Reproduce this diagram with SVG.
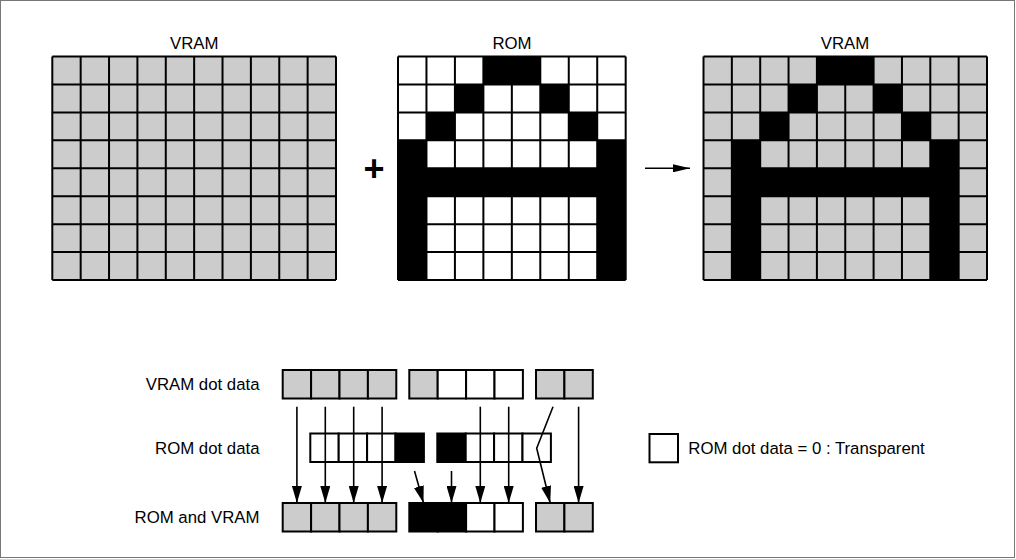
<svg xmlns="http://www.w3.org/2000/svg" width="1016" height="559" viewBox="0 0 1016 559">
<defs>
<style>
.g{fill:#cccccc}
.w{fill:#ffffff}
.b{fill:#000000}
.ln{fill:none;stroke:#000;stroke-width:2;vector-effect:non-scaling-stroke}
.cell{stroke:#000;stroke-width:2}
.t{font-family:"Liberation Sans",Arial,sans-serif;font-size:16.8px;fill:#000}
.c{stroke:#000;stroke-width:1.6;fill:none}
</style>
<marker id="ah" markerUnits="userSpaceOnUse" markerWidth="17" markerHeight="10" refX="17" refY="5" orient="auto">
<path d="M0,0 L17,5 L0,10 z" fill="#000"/>
</marker>
<marker id="ah2" markerUnits="userSpaceOnUse" markerWidth="17" markerHeight="8" refX="17" refY="4" orient="auto">
<path d="M0,0 L17,4 L0,8 z" fill="#000"/>
</marker>
</defs>
<rect x="0.5" y="0.5" width="1014" height="557" fill="#fff" stroke="#777" stroke-width="1"/>

<g id="vram-source">
<text class="t" x="194.2" y="49.3" text-anchor="middle">VRAM</text>
<g transform="translate(52.3,56.5) scale(28.37,27.94)">
<rect class="g" x="0" y="0" width="10" height="8"/>
<path class="ln" d="M0 0V8M1 0V8M2 0V8M3 0V8M4 0V8M5 0V8M6 0V8M7 0V8M8 0V8M9 0V8M10 0V8M0 0H10M0 1H10M0 2H10M0 3H10M0 4H10M0 5H10M0 6H10M0 7H10M0 8H10"/>
</g>
</g>

<g id="plus">
<text x="374" y="180.8" text-anchor="middle" style="font-family:'Liberation Sans',Arial,sans-serif;font-size:36px;font-weight:bold">+</text>
</g>

<g id="rom-font">
<text class="t" x="512" y="49.3" text-anchor="middle">ROM</text>
<g transform="translate(398,56.5) scale(28.46,27.94)">
<rect class="w" x="0" y="0" width="8" height="8"/>
<rect class="b" x="3" y="0" width="2" height="1"/>
<rect class="b" x="2" y="1" width="1" height="1"/>
<rect class="b" x="5" y="1" width="1" height="1"/>
<rect class="b" x="1" y="2" width="1" height="1"/>
<rect class="b" x="6" y="2" width="1" height="1"/>
<rect class="b" x="0" y="3" width="1" height="5"/>
<rect class="b" x="7" y="3" width="1" height="5"/>
<rect class="b" x="0" y="4" width="8" height="1"/>
<path class="ln" d="M0 0V8M1 0V8M2 0V8M3 0V8M4 0V8M5 0V8M6 0V8M7 0V8M8 0V8M0 0H8M0 1H8M0 2H8M0 3H8M0 4H8M0 5H8M0 6H8M0 7H8M0 8H8"/>
</g>
</g>

<g id="vram-result">
<text class="t" x="845" y="49.3" text-anchor="middle">VRAM</text>
<g transform="translate(703.5,56.5) scale(28.35,27.94)">
<rect class="g" x="0" y="0" width="10" height="8"/>
<rect class="b" x="4" y="0" width="2" height="1"/>
<rect class="b" x="3" y="1" width="1" height="1"/>
<rect class="b" x="6" y="1" width="1" height="1"/>
<rect class="b" x="2" y="2" width="1" height="1"/>
<rect class="b" x="7" y="2" width="1" height="1"/>
<rect class="b" x="1" y="3" width="1" height="5"/>
<rect class="b" x="8" y="3" width="1" height="5"/>
<rect class="b" x="1" y="4" width="8" height="1"/>
<path class="ln" d="M0 0V8M1 0V8M2 0V8M3 0V8M4 0V8M5 0V8M6 0V8M7 0V8M8 0V8M9 0V8M10 0V8M0 0H10M0 1H10M0 2H10M0 3H10M0 4H10M0 5H10M0 6H10M0 7H10M0 8H10"/>
</g>
</g>

<g id="vram-dot-data">
<text class="t" x="259.5" y="389.5" text-anchor="end">VRAM dot data</text>
<rect class="cell g" x="282.7" y="370" width="28.4" height="28.5"/>
<rect class="cell g" x="311.1" y="370" width="28.4" height="28.5"/>
<rect class="cell g" x="339.5" y="370" width="28.4" height="28.5"/>
<rect class="cell g" x="367.9" y="370" width="28.4" height="28.5"/>
<rect class="cell g" x="409.3" y="370" width="28.4" height="28.5"/>
<rect class="cell w" x="437.7" y="370" width="28.4" height="28.5"/>
<rect class="cell w" x="466.1" y="370" width="28.4" height="28.5"/>
<rect class="cell w" x="494.5" y="370" width="28.4" height="28.5"/>
<rect class="cell g" x="536" y="370" width="28.4" height="28.5"/>
<rect class="cell g" x="564.4" y="370" width="28.4" height="28.5"/>
</g>

<g id="rom-dot-data">
<text class="t" x="259.5" y="453.5" text-anchor="end">ROM dot data</text>
<rect class="cell w" x="310.3" y="433.5" width="28.4" height="28.5"/>
<rect class="cell w" x="338.7" y="433.5" width="28.4" height="28.5"/>
<rect class="cell w" x="367.1" y="433.5" width="28.4" height="28.5"/>
<rect class="cell b" x="395.5" y="433.5" width="28.4" height="28.5"/>
<rect class="cell b" x="437.3" y="433.5" width="28.4" height="28.5"/>
<rect class="cell w" x="465.7" y="433.5" width="28.4" height="28.5"/>
<rect class="cell w" x="494.1" y="433.5" width="28.4" height="28.5"/>
<rect class="cell w" x="522.5" y="433.5" width="28.4" height="28.5"/>
</g>

<g id="rom-and-vram">
<text class="t" x="259.5" y="522.5" text-anchor="end">ROM and VRAM</text>
<rect class="cell g" x="282.7" y="503" width="28.4" height="28.5"/>
<rect class="cell g" x="311.1" y="503" width="28.4" height="28.5"/>
<rect class="cell g" x="339.5" y="503" width="28.4" height="28.5"/>
<rect class="cell g" x="367.9" y="503" width="28.4" height="28.5"/>
<rect class="cell b" x="409.3" y="503" width="28.4" height="28.5"/>
<rect class="cell b" x="437.7" y="503" width="28.4" height="28.5"/>
<rect class="cell w" x="466.1" y="503" width="28.4" height="28.5"/>
<rect class="cell w" x="494.5" y="503" width="28.4" height="28.5"/>
<rect class="cell g" x="536" y="503" width="28.4" height="28.5"/>
<rect class="cell g" x="564.4" y="503" width="28.4" height="28.5"/>
</g>

<g id="legend">
<rect class="cell w" x="649.5" y="434" width="28.5" height="28.3"/>
<text class="t" x="688.3" y="454">ROM dot data = 0 : Transparent</text>
</g>

<g id="connectors">
<line class="c" x1="645" y1="168.3" x2="690" y2="168.3" marker-end="url(#ah2)"/>
<line class="c" x1="296.9" y1="406.7" x2="296.9" y2="503" marker-end="url(#ah)"/>
<line class="c" x1="325.3" y1="406.7" x2="325.3" y2="503" marker-end="url(#ah)"/>
<line class="c" x1="353.7" y1="406.7" x2="353.7" y2="503" marker-end="url(#ah)"/>
<line class="c" x1="382.1" y1="406.7" x2="382.1" y2="503" marker-end="url(#ah)"/>
<line class="c" x1="480.3" y1="406.7" x2="480.3" y2="503" marker-end="url(#ah)"/>
<line class="c" x1="508.7" y1="406.7" x2="508.7" y2="503" marker-end="url(#ah)"/>
<line class="c" x1="578.6" y1="406.7" x2="578.6" y2="503" marker-end="url(#ah)"/>
<polyline class="c" points="553,406.7 536.7,448.3 550.2,503" marker-end="url(#ah)"/>
<line class="c" x1="414.5" y1="471" x2="423.5" y2="503" marker-end="url(#ah)"/>
<line class="c" x1="451.5" y1="471" x2="451.5" y2="503" marker-end="url(#ah)"/>
</g>
</svg>
